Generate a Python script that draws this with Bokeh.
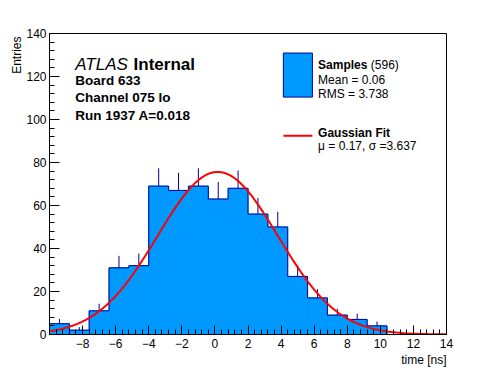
import numpy as np
from bokeh.plotting import figure
from bokeh.models import Range1d, SingleIntervalTicker, Label, BoxAnnotation, Title
from bokeh.embed import file_html
from bokeh.resources import INLINE

# ---- data ----
counts = [5, 2, 11, 31, 32, 69, 67, 69, 63, 68, 56, 50, 27, 17, 9, 7, 4, 0, 0, 0]
bin_lo, bin_hi = -10.0, 14.0
fit_amp, fit_mu, fit_sigma = 75.6, 0.17, 3.637
n_entries, sample_mean, sample_rms = 596, 0.06, 3.738
x_tick_values = list(range(-10, 15, 2))
y_tick_values = list(range(0, 141, 20))

FONT = "Liberation Sans"
FILL = "#0099ff"
EDGE = "#000099"

counts_a = np.array(counts, dtype=float)
edges = np.linspace(bin_lo, bin_hi, len(counts) + 1)
centers = 0.5 * (edges[:-1] + edges[1:])
errors = np.sqrt(counts_a)

p = figure(width=496, height=372, x_range=Range1d(bin_lo, bin_hi), y_range=Range1d(0, 140),
           output_backend="svg", toolbar_location=None,
           min_border_left=49, min_border_right=50, min_border_top=33, min_border_bottom=38)
p.grid.visible = False
p.outline_line_color = "black"
p.outline_line_width = 1
p.background_fill_color = "white"
p.border_fill_color = "white"

# filled histogram (edge drawn in fill colour to hide seams between bins)
p.quad(left=edges[:-1], right=edges[1:], bottom=0, top=counts_a, fill_color=FILL,
       line_color=FILL, line_width=1)
# outline as a step
xs, ys = [edges[0]], [0.0]
for i, c in enumerate(counts_a):
    xs += [edges[i], edges[i + 1]]
    ys += [c, c]
xs.append(edges[-1]); ys.append(0.0)
p.line(xs, ys, line_color=EDGE, line_width=1)
# error bars (upper part visible)
m = counts_a > 0
p.segment(x0=centers[m], y0=counts_a[m], x1=centers[m], y1=(counts_a + errors)[m], line_color=EDGE, line_width=1)

# gaussian fit curve
xg = np.linspace(bin_lo, bin_hi, 400)
yg = fit_amp * np.exp(-0.5 * ((xg - fit_mu) / fit_sigma) ** 2)
p.line(xg, yg, line_color="red", line_width=2)

# axes
p.xaxis.ticker = SingleIntervalTicker(interval=2, num_minor_ticks=5)
p.yaxis.ticker = SingleIntervalTicker(interval=20, num_minor_ticks=5)
p.xaxis.major_label_overrides = {v: ("" if v == bin_lo else str(v).replace("-", "\u2212")) for v in x_tick_values}
for ax in (p.xaxis[0], p.yaxis[0]):
    ax.axis_line_color = "black"
    ax.major_tick_line_color = "black"
    ax.minor_tick_line_color = "black"
    ax.major_tick_out = 0
    ax.minor_tick_out = 0
    ax.major_label_text_font = FONT
    ax.major_label_text_font_size = "12px"
    ax.major_label_text_color = "black"
p.xaxis.major_tick_in = 9
p.xaxis.minor_tick_in = 5
p.xaxis.major_label_standoff = 4
p.yaxis.major_tick_in = 10
p.yaxis.minor_tick_in = 5
p.yaxis.major_label_standoff = 3

# axis titles (ROOT style: at the end of the axis)
p.add_layout(Title(text="time [ns]", align="right", text_font=FONT, text_font_size="12px",
                   text_font_style="normal", text_color="black", standoff=0), "below")
p.add_layout(Title(text="Entries", align="right", text_font=FONT, text_font_size="12px",
                   text_font_style="normal", text_color="black", offset=3, standoff=0), "left")

# pixel -> data helpers for annotation placement (frame: x 49.3..446, y 33.5..334)
def dx(px):
    return bin_lo + (px - 49.3) / 396.7 * (bin_hi - bin_lo)

def dy(py):
    return (334.0 - py) / 300.5 * 140.0

def lab(px, py, text, size="12px", style="normal", align="left"):
    p.add_layout(Label(x=dx(px), y=dy(py), text=text, text_font=FONT, text_font_size=size,
                       text_font_style=style, text_align=align, text_baseline="alphabetic",
                       text_color="black"))

lab(75, 64, "ATLAS", size="17px", style="italic")
lab(133.3, 64, "Internal", size="17px", style="bold")
lab(75, 80, "Board 633", size="13.5px", style="bold")
lab(75, 97.5, "Channel 075 lo", size="13.5px", style="bold")
lab(75, 115, "Run 1937 A=0.018", size="13.5px", style="bold")

# legend
p.add_layout(BoxAnnotation(left=dx(283), right=dx(312), top=dy(53), bottom=dy(97),
                           fill_color=FILL, fill_alpha=1, line_color=EDGE, line_width=1, line_alpha=1))
p.add_layout(BoxAnnotation(left=dx(283), right=dx(312), top=dy(134.7), bottom=dy(136.7),
                           fill_color="red", fill_alpha=1, line_color=None))
lab(317.7, 65, "Samples", style="bold")
lab(370.4, 65, f"({n_entries})")
lab(317.7, 80, f"Mean = {sample_mean:.2f}")
lab(317.7, 94.3, f"RMS = {sample_rms:.3f}")
lab(317.7, 133.3, "Gaussian Fit", style="bold")
lab(317.7, 145.5, f"\u03bc = {fit_mu:.2f}, \u03c3 ={fit_sigma:.3f}")

open("out.html", "w").write(file_html(p, INLINE))
